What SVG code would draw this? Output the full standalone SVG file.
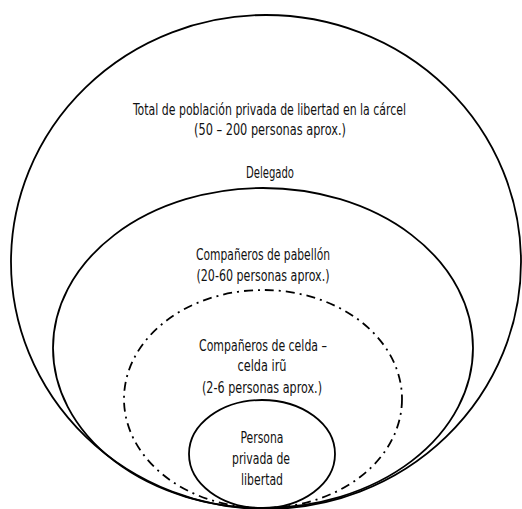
<svg xmlns="http://www.w3.org/2000/svg" width="522" height="509" viewBox="0 0 522 509">
  <style>
    .ring { fill: none; stroke: #000; stroke-width: 1.8; }
    .dashed { stroke-dasharray: 9 5 2 5; }
    .lbl { font-family: "DejaVu Sans Condensed", "Liberation Sans Narrow", "DejaVu Sans", sans-serif; font-size: 15px; fill: #111; text-anchor: middle; }
  </style>
  <rect width="522" height="509" fill="#fff"/>

  <g id="carcel">
    <ellipse class="ring" cx="266" cy="262" rx="255" ry="247"/>
    <text class="lbl" x="269.5" y="115" textLength="273" lengthAdjust="spacingAndGlyphs">Total de población privada de libertad en la cárcel</text>
    <text class="lbl" x="270" y="135" textLength="152" lengthAdjust="spacingAndGlyphs">(50 – 200 personas aprox.)</text>
    <text class="lbl" x="270" y="178" textLength="48" lengthAdjust="spacingAndGlyphs">Delegado</text>
  </g>

  <g id="pabellon">
    <ellipse class="ring" cx="263" cy="348" rx="210" ry="160"/>
    <text class="lbl" x="263" y="260" textLength="134" lengthAdjust="spacingAndGlyphs">Compañeros de pabellón</text>
    <text class="lbl" x="263" y="281" textLength="133" lengthAdjust="spacingAndGlyphs">(20-60 personas aprox.)</text>
  </g>

  <g id="celda">
    <ellipse class="ring dashed" cx="263" cy="399" rx="139" ry="109"/>
    <text class="lbl" x="263" y="351" textLength="128" lengthAdjust="spacingAndGlyphs">Compañeros de celda –</text>
    <text class="lbl" x="262" y="371" textLength="49" lengthAdjust="spacingAndGlyphs">celda irũ</text>
    <text class="lbl" x="262" y="393" textLength="120" lengthAdjust="spacingAndGlyphs">(2-6 personas aprox.)</text>
  </g>

  <g id="persona">
    <ellipse class="ring" cx="262" cy="454" rx="73" ry="54"/>
    <text class="lbl" x="262" y="443" textLength="43" lengthAdjust="spacingAndGlyphs">Persona</text>
    <text class="lbl" x="261" y="464" textLength="58" lengthAdjust="spacingAndGlyphs">privada de</text>
    <text class="lbl" x="262" y="485" textLength="42" lengthAdjust="spacingAndGlyphs">libertad</text>
  </g>

  <g id="connectors"/>
</svg>
